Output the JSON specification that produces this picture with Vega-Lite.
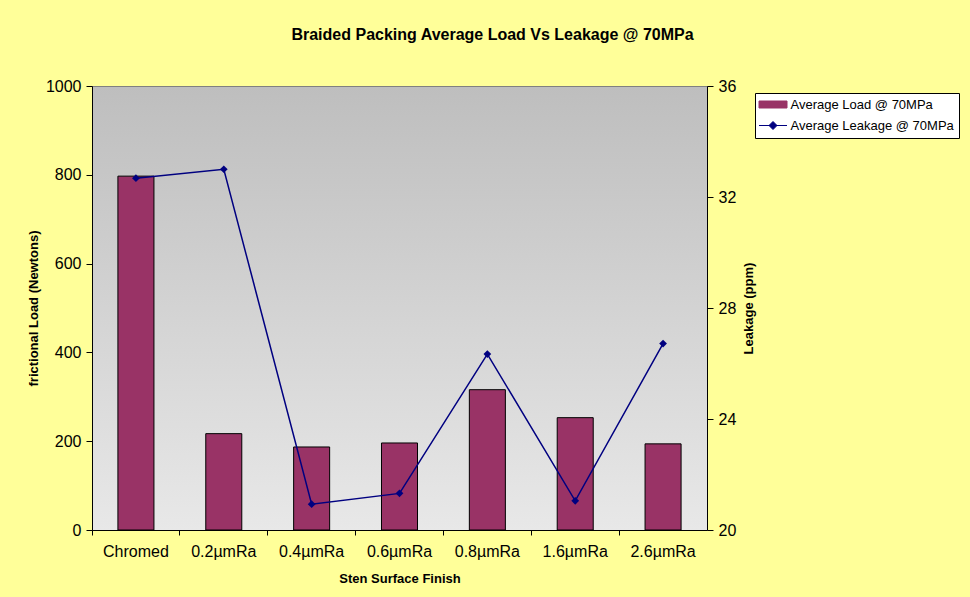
{
  "$schema": "https://vega.github.io/schema/vega-lite/v6.json",
  "autosize": "none",
  "width": 615,
  "height": 444,
  "padding": {"left": 92, "top": 86, "right": 263, "bottom": 67},
  "background": "#FFFF99",
  "config": {
    "font": "Liberation Sans",
    "view": {
      "fill": {"gradient": "linear", "x1": 0, "y1": 0, "x2": 0, "y2": 1, "stops": [{"offset": 0, "color": "#BEBEBE"}, {"offset": 1, "color": "#E8E8E8"}]},
      "stroke": "#808080",
      "strokeWidth": 1
    },
    "axis": {"labelFont": "Liberation Sans", "titleFont": "Liberation Sans", "labelColor": "black", "titleColor": "black", "domainColor": "black", "tickColor": "black", "labelFontSize": 16, "titleFontSize": 13, "titleFontWeight": "bold", "grid": false},
    "legend": {
      "title": null,
      "orient": "none",
      "legendX": 663,
      "legendY": 7,
      "fillColor": "white",
      "strokeColor": "black",
      "padding": 5,
      "labelFont": "Liberation Sans",
      "labelFontSize": 13,
      "labelColor": "black",
      "labelLimit": 400,
      "symbolSize": 64,
      "symbolOffset": 6.5,
      "labelOffset": 11,
      "rowPadding": 7,
      "symbolStrokeWidth": 1
    }
  },
  "title": {"text": "Braided Packing Average Load Vs Leakage @ 70MPa", "font": "Liberation Sans", "fontSize": 16, "fontWeight": "bold", "color": "black", "anchor": "middle", "dx": 93, "offset": 35},
  "data": {
    "values": [
      {"finish": "Chromed", "load": 797, "leakage": 32.68},
      {"finish": "0.2µmRa", "load": 217, "leakage": 33.0},
      {"finish": "0.4µmRa", "load": 187, "leakage": 20.93},
      {"finish": "0.6µmRa", "load": 196, "leakage": 21.32},
      {"finish": "0.8µmRa", "load": 316, "leakage": 26.34},
      {"finish": "1.6µmRa", "load": 253, "leakage": 21.05},
      {"finish": "2.6µmRa", "load": 194, "leakage": 26.72}
    ]
  },
  "encoding": {
    "x": {
      "field": "finish",
      "type": "nominal",
      "sort": null,
      "scale": {"paddingInner": 0, "paddingOuter": 0},
      "axis": {"title": "Sten Surface Finish", "labelAngle": 0, "bandPosition": 0, "tickSize": 5, "labelPadding": 8, "titlePadding": 13}
    }
  },
  "layer": [
    {
      "mark": {"type": "bar", "stroke": "black", "strokeWidth": 1, "width": {"band": 0.41}},
      "encoding": {
        "y": {"field": "load", "type": "quantitative", "scale": {"domain": [0, 1000], "nice": false}, "axis": {"orient": "left", "title": "frictional Load (Newtons)", "format": "d", "values": [0, 200, 400, 600, 800, 1000], "tickSize": 6, "labelPadding": 5, "titlePadding": 5}},
        "color": {
          "datum": "Average Load @ 70MPa",
          "type": "nominal",
          "scale": {"domain": ["Average Load @ 70MPa", "Average Leakage @ 70MPa"], "range": ["#993366", "#000080"]},
          "legend": {
            "encode": {
              "symbols": {
                "update": {
                  "shape": {"signal": "datum.value === 'Average Load @ 70MPa' ? 'M-3.5,-0.875L3.5,-0.875L3.5,0.875L-3.5,0.875Z' : 'M-3.5,0L3.5,0M-1,0L0,-1L1,0L0,1Z'"},
                  "fill": {"signal": "datum.value === 'Average Load @ 70MPa' ? '#993366' : '#000080'"},
                  "stroke": {"signal": "datum.value === 'Average Load @ 70MPa' ? 'black' : '#000080'"},
                  "strokeWidth": {"value": 1},
                  "opacity": {"value": 1}
                }
              }
            }
          }
        }
      }
    },
    {
      "mark": {"type": "line", "strokeWidth": 1.5, "point": {"shape": "diamond", "filled": true, "size": 60}},
      "encoding": {
        "y": {"field": "leakage", "type": "quantitative", "scale": {"domain": [20, 36], "nice": false}, "axis": {"orient": "right", "title": "Leakage (ppm)", "values": [20, 24, 28, 32, 36], "tickSize": 6, "labelPadding": 5, "titlePadding": 20, "titleAngle": 270}},
        "color": {
          "datum": "Average Leakage @ 70MPa",
          "type": "nominal",
          "legend": {
            "encode": {
              "symbols": {
                "update": {
                  "shape": {"signal": "datum.value === 'Average Load @ 70MPa' ? 'M-3.5,-0.875L3.5,-0.875L3.5,0.875L-3.5,0.875Z' : 'M-3.5,0L3.5,0M-1,0L0,-1L1,0L0,1Z'"},
                  "fill": {"signal": "datum.value === 'Average Load @ 70MPa' ? '#993366' : '#000080'"},
                  "stroke": {"signal": "datum.value === 'Average Load @ 70MPa' ? 'black' : '#000080'"},
                  "strokeWidth": {"value": 1},
                  "opacity": {"value": 1}
                }
              }
            }
          }
        }
      }
    }
  ],
  "resolve": {"scale": {"y": "independent"}}
}
